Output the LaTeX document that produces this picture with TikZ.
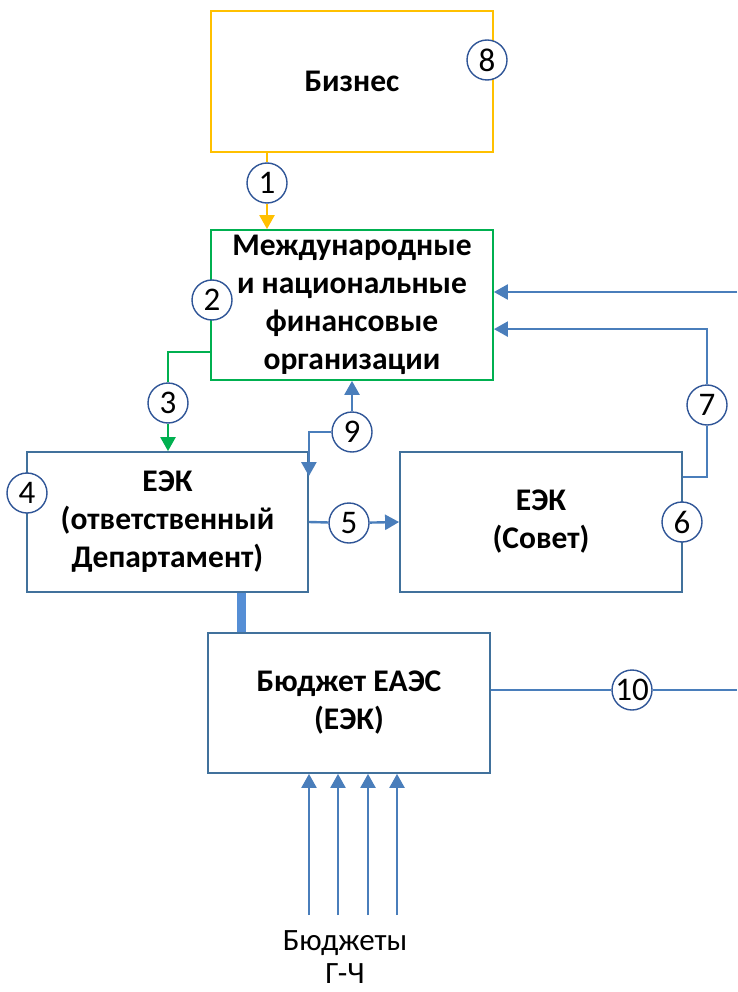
\documentclass[tikz,border=0pt]{standalone}
\usepackage{fontspec}
\setmainfont{Carlito}
\usetikzlibrary{arrows.meta,positioning}
\definecolor{bizyellow}{HTML}{FFC000}
\definecolor{orggreen}{HTML}{00B050}
\definecolor{boxblue}{HTML}{41719C}
\definecolor{lineblue}{HTML}{4A7EBB}
\definecolor{barblue}{HTML}{558ED5}
\definecolor{ringblue}{HTML}{2F5597}
\tikzset{
  blok/.style={draw=boxblue,line width=1.8pt,minimum width=282pt,minimum height=141pt,
    align=center,inner sep=0pt,font=\bfseries\fontsize{31.5}{38}\selectfont},
  num/.style={circle,draw=ringblue,fill=white,line width=1.4pt,minimum size=40pt,
    inner sep=0pt,font=\fontsize{33}{33}\selectfont},
  link/.style={draw=lineblue,line width=2.4pt},
  tip/.style={-{Triangle[length=14pt,width=15pt]}}
}
\begin{document}
\begin{tikzpicture}[x=1pt,y=-1pt]
\useasboundingbox (0,0) rectangle (737,992);

% boxes
\node[blok,draw=bizyellow] (biz) at (352,81.5) {Бизнес};
\node[blok,draw=orggreen,minimum height=150pt] (org) at (352,305)
  {Международные\\и национальные\\финансовые\\организации};
\node[blok,minimum width=281pt,minimum height=140pt] (dep) at (167.5,522)
  {ЕЭК\\(ответственный\\Департамент)};
\node[blok,minimum width=282pt,minimum height=140pt] (sov) at (541,522) {ЕЭК\\(Совет)};
\node[blok,minimum height=140pt] (bud) at (349,703) {Бюджет ЕАЭС\\(ЕЭК)};
\node[font=\fontsize{31}{33}\selectfont,align=center] (src) at (345,957) {Бюджеты\\Г-Ч};

% numbers
\node[num] (n1) at (267,183) {1};
\node[num] (n2) at (212,300) {2};
\node[num] (n3) at (168,403) {3};
\node[num] (n4) at (27,493) {4};
\node[num] (n5) at (349,523) {5};
\node[num] (n6) at (682,522) {6};
\node[num] (n7) at (707,405) {7};
\node[num] (n8) at (487,60) {8};
\node[num] (n9) at (352,432) {9};
\node[num] (n10) at (632,690) {10};

\coordinate (edge1) at (737,292);
\coordinate (edge2) at (737,690);
\coordinate (barx) at (241,0);

% connectors
\draw[link,draw=bizyellow] (biz.south -| n1) -- (n1);
\draw[link,draw=bizyellow,tip] (n1) -- (org.north -| n1);
\draw[link,draw=orggreen] ([yshift=29pt]org.south west) -| (n3);
\draw[link,draw=orggreen,tip] (n3) -- (n3 |- dep.north);
\draw[link,tip] (n9) -- (n9 |- org.south);
\draw[link,tip] (n9) -| ([yshift=-25pt]dep.north east);
\draw[link] (dep.east) -- (n5);
\draw[link,tip] (n5) -- (sov.west);
\draw[link] ([yshift=-26pt]sov.north east) -| (n7);
\draw[link,tip] (n7) |- ([yshift=-100pt]org.north east);
\draw[link,tip] (edge1) -- (edge1 -| org.east);
\draw[link] ([yshift=13pt]bud.east) -- (n10);
\draw[link] (n10) -- (edge2);
\draw[draw=barblue,line width=9pt] (barx |- dep.south) -- (barx |- bud.north);
\foreach \x in {309,338,368,397}
  \draw[link,tip] (\x,915) -- (\x,0 |- bud.south);
\end{tikzpicture}
\end{document}
